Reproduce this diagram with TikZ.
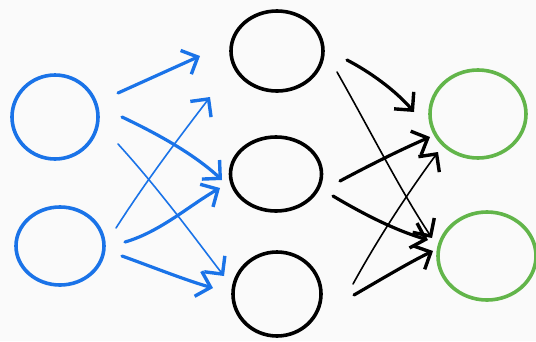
\documentclass[tikz,border=0pt]{standalone}
\usetikzlibrary{shapes.geometric,arrows.meta}
\definecolor{penblue}{HTML}{1A73E8}
\definecolor{pengreen}{HTML}{62B54A}
\definecolor{bgpaper}{HTML}{FAFAFA}
\begin{document}
\begin{tikzpicture}[x=1pt,y=-1pt,
  unit/.style={ellipse, draw, line width=3.6pt, inner sep=0pt},
  inunit/.style={unit, draw=penblue},
  hidunit/.style={unit, draw=black},
  outunit/.style={unit, draw=pengreen},
  link/.style={line width=3.2pt, line cap=round, line join=round,
    -{Straight Barb[length=13pt,width=26pt,line width=3.4pt 0]}},
  thinlink/.style={link, line width=1.6pt},
]
\fill[bgpaper] (0,0) rectangle (536,341);
\useasboundingbox (0,0) rectangle (536,341);

% units
\node[inunit, minimum width=86pt, minimum height=84pt] (in1) at (55,117) {};
\node[inunit, minimum width=88pt, minimum height=78pt] (in2) at (60,246) {};
\node[hidunit, minimum width=92pt, minimum height=80pt] (h1) at (277,51) {};
\node[hidunit, minimum width=91pt, minimum height=74pt] (h2) at (276,174) {};
\node[hidunit, minimum width=88pt, minimum height=84pt] (h3) at (277,294) {};
\node[outunit, minimum width=96pt, minimum height=88pt] (o1) at (478,114) {};
\node[outunit, minimum width=98pt, minimum height=88pt] (o2) at (487,256) {};

% connector end points
\coordinate (a1s) at (118,93);  \coordinate (a1e) at (200,56);
\coordinate (a2s) at (122,117); \coordinate (a2e) at (222,180);
\coordinate (a3s) at (118,144); \coordinate (a3e) at (224,276);
\coordinate (a4s) at (116,228); \coordinate (a4e) at (210,97);
\coordinate (a5s) at (125,242); \coordinate (a5e) at (220,188);
\coordinate (a6s) at (122,256); \coordinate (a6e) at (213,288);

\coordinate (b1s) at (347,60);  \coordinate (b1e) at (414,112);
\coordinate (b2s) at (337,72);  \coordinate (b2e) at (432,238);
\coordinate (b3s) at (340,181); \coordinate (b3e) at (430,137);
\coordinate (b4s) at (333,196); \coordinate (b4e) at (428,240);
\coordinate (b5s) at (353,284); \coordinate (b5e) at (438,152);
\coordinate (b6s) at (354,295); \coordinate (b6e) at (433,251);

% input -> hidden
\draw[link, penblue] (a1s) -- (a1e);
\draw[link, penblue] (a2s) .. controls (160,135) and (195,155) .. (a2e);
\draw[thinlink, penblue] (a3s) .. controls (160,190) and (200,245) .. (a3e);
\draw[thinlink, penblue] (a4s) .. controls (150,175) and (185,130) .. (a4e);
\draw[link, penblue] (a5s) .. controls (160,232) and (190,205) .. (a5e);
\draw[link, penblue] (a6s) .. controls (150,266) and (185,280) .. (a6e);

% hidden -> output
\draw[link] (b1s) .. controls (370,72) and (395,90) .. (b1e);
\draw[thinlink] (b2s) .. controls (370,130) and (400,190) .. (b2e);
\draw[link] (b3s) .. controls (370,165) and (400,150) .. (b3e);
\draw[link] (b4s) .. controls (365,215) and (395,230) .. (b4e);
\draw[thinlink] (b5s) .. controls (380,235) and (410,190) .. (b5e);
\draw[link] (b6s) .. controls (380,280) and (410,262) .. (b6e);
\end{tikzpicture}
\end{document}
